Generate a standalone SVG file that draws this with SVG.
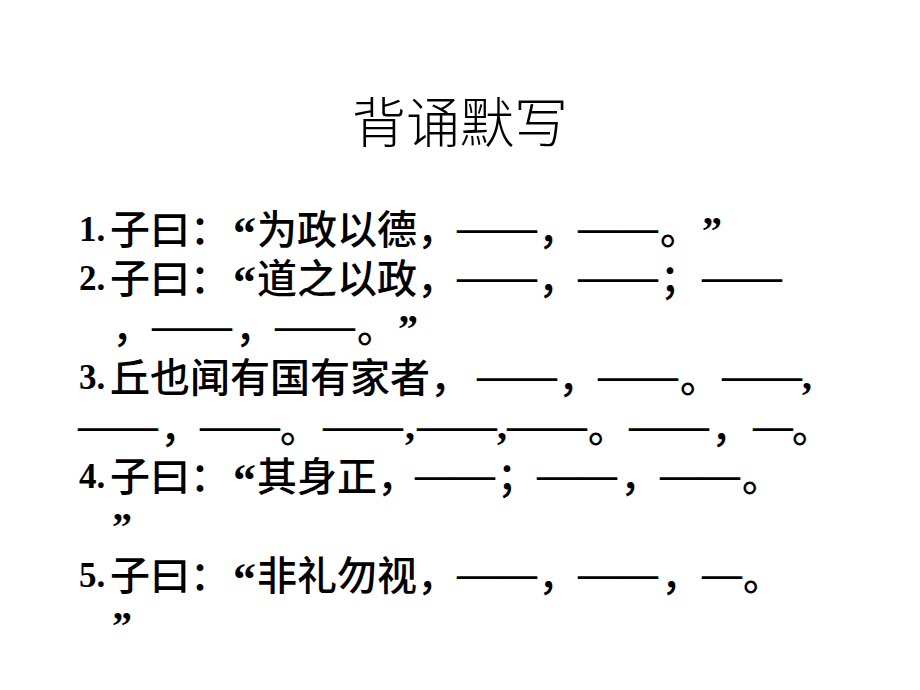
<svg xmlns="http://www.w3.org/2000/svg" width="920" height="690" viewBox="0 0 920 690">
<style>
.title{font-family:"Noto Sans CJK SC",sans-serif;font-size:54px;font-weight:300;fill:#000}
.lat{font-family:"Liberation Serif","Times New Roman",serif;font-weight:bold;font-size:35px;fill:#000}
.cjk{font-family:"Noto Sans CJK SC",sans-serif;font-size:40px;font-weight:500;fill:#000}
.dash{font-family:"Liberation Serif","Times New Roman",serif;font-weight:bold;font-size:40px;fill:#000}
.hc{font-family:"Liberation Serif","Times New Roman",serif;font-weight:bold;font-size:40px;fill:#000}
.oq{font-family:"Liberation Serif","Times New Roman",serif;font-weight:bold;font-size:46px;fill:#000}
.cq{font-family:"Liberation Serif","Times New Roman",serif;font-weight:bold;font-size:40px;fill:#000}
</style>
<rect x="0" y="0" width="920" height="690" fill="#fff"/>
<text id="title" class="title" x="460" y="143" text-anchor="middle">背诵默写</text>
<g id="q1">
<text><tspan class="lat" x="79" y="241">1.</tspan><tspan class="cjk" x="110" y="244">子曰：</tspan><tspan class="oq" x="233" y="249">“</tspan><tspan class="cjk" x="257" y="244">为政以德，</tspan><tspan class="dash" x="457" y="241">——</tspan><tspan class="cjk" x="538" y="244">，</tspan><tspan class="dash" x="578" y="241">——</tspan><tspan class="cjk" x="660" y="244">。</tspan><tspan class="cq" x="702" y="244">”</tspan></text>
</g>
<g id="q2">
<text><tspan class="lat" x="79" y="290">2.</tspan><tspan class="cjk" x="110" y="293">子曰：</tspan><tspan class="oq" x="233" y="298">“</tspan><tspan class="cjk" x="257" y="293">道之以政，</tspan><tspan class="dash" x="457" y="290">——</tspan><tspan class="cjk" x="538" y="293">，</tspan><tspan class="dash" x="578" y="290">——</tspan><tspan class="cjk" x="660" y="293">；</tspan><tspan class="dash" x="702" y="290">——</tspan></text>
<text><tspan class="cjk" x="112" y="342">，</tspan><tspan class="dash" x="152" y="339">——</tspan><tspan class="cjk" x="235" y="342">，</tspan><tspan class="dash" x="275" y="339">——</tspan><tspan class="cjk" x="357" y="342">。</tspan><tspan class="cq" x="398" y="342">”</tspan></text>
</g>
<g id="q3">
<text><tspan class="lat" x="79" y="389">3.</tspan><tspan class="cjk" x="110" y="392">丘也闻有国有家者，</tspan><tspan class="dash" x="477" y="389">——</tspan><tspan class="cjk" x="558" y="392">，</tspan><tspan class="dash" x="598" y="389">——</tspan><tspan class="cjk" x="680" y="392">。</tspan><tspan class="dash" x="722" y="389">——</tspan><tspan class="hc" x="802" y="389">,</tspan></text>
<text><tspan class="dash" x="78" y="439">——</tspan><tspan class="cjk" x="160" y="442">，</tspan><tspan class="dash" x="200" y="439">——</tspan><tspan class="cjk" x="280" y="442">。</tspan><tspan class="dash" x="323" y="439">——</tspan><tspan class="hc" x="405" y="439">,</tspan><tspan class="dash" x="417" y="439">——</tspan><tspan class="hc" x="497" y="439">,</tspan><tspan class="dash" x="507" y="439">——</tspan><tspan class="cjk" x="588" y="442">。</tspan><tspan class="dash" x="629" y="439">——</tspan><tspan class="cjk" x="711" y="442">，</tspan><tspan class="dash" x="753" y="439">—</tspan><tspan class="cjk" x="792" y="442">。</tspan></text>
</g>
<g id="q4">
<text><tspan class="lat" x="79" y="488">4.</tspan><tspan class="cjk" x="110" y="491">子曰：</tspan><tspan class="oq" x="233" y="496">“</tspan><tspan class="cjk" x="257" y="491">其身正，</tspan><tspan class="dash" x="415" y="488">——</tspan><tspan class="cjk" x="497" y="491">；</tspan><tspan class="dash" x="537" y="488">——</tspan><tspan class="cjk" x="620" y="491">，</tspan><tspan class="dash" x="660" y="488">——</tspan><tspan class="cjk" x="742" y="491">。</tspan></text>
<text><tspan class="cq" x="112" y="540">”</tspan></text>
</g>
<g id="q5">
<text><tspan class="lat" x="79" y="587">5.</tspan><tspan class="cjk" x="110" y="590">子曰：</tspan><tspan class="oq" x="233" y="595">“</tspan><tspan class="cjk" x="257" y="590">非礼勿视，</tspan><tspan class="dash" x="457" y="587">——</tspan><tspan class="cjk" x="538" y="590">，</tspan><tspan class="dash" x="578" y="587">——</tspan><tspan class="cjk" x="661" y="590">，</tspan><tspan class="dash" x="702" y="587">—</tspan><tspan class="cjk" x="743" y="590">。</tspan></text>
<text><tspan class="cq" x="112" y="639">”</tspan></text>
</g>
</svg>
